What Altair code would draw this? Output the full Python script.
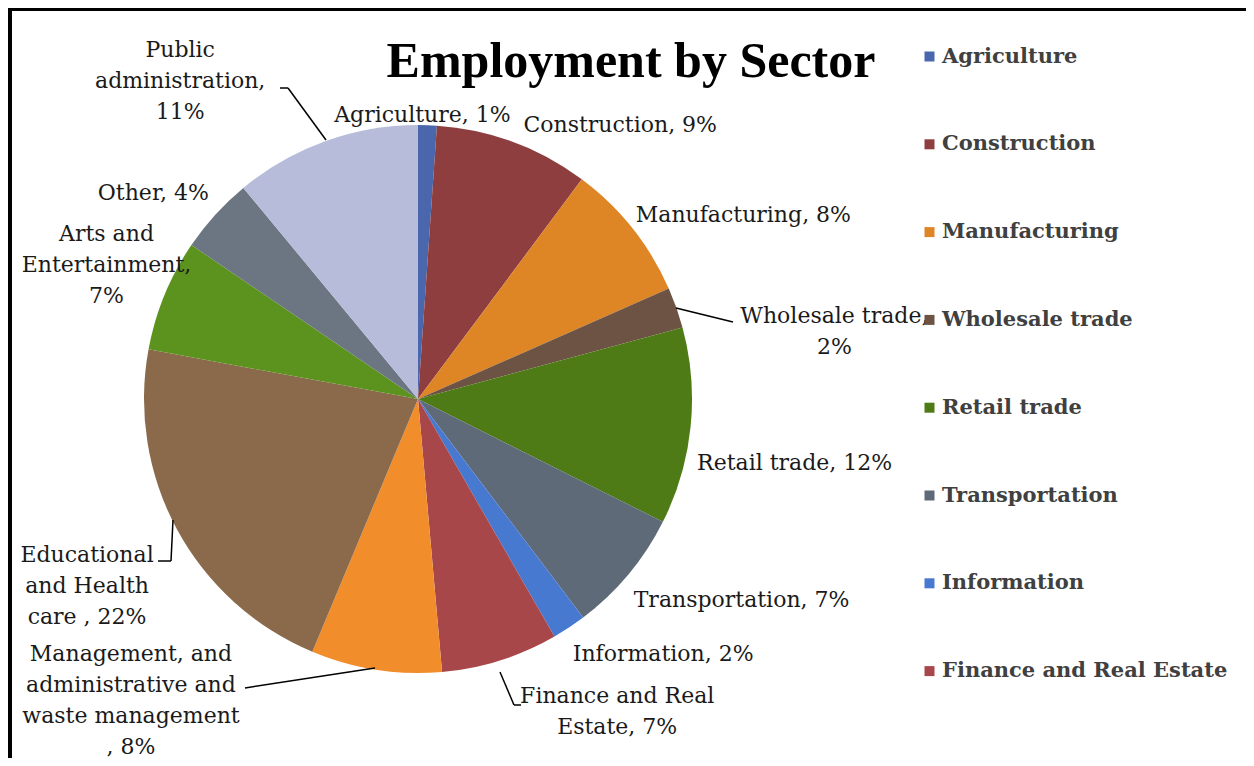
import altair as alt
import pandas as pd

# ---- data ----
sectors = [
    "Agriculture", "Construction", "Manufacturing", "Wholesale trade",
    "Retail trade", "Transportation", "Information", "Finance and Real Estate",
    "Management, and administrative and waste management",
    "Educational and Health care", "Arts and Entertainment", "Other",
    "Public administration",
]
shares = [1.1, 9.1, 8.2, 2.4, 11.6, 7.3, 2.0, 6.9, 7.7, 21.6, 6.6, 4.5, 11.0]
labels = [
    "Agriculture, 1%",
    "Construction, 9%",
    "Manufacturing, 8%",
    "Wholesale trade,\n2%",
    "Retail trade, 12%",
    "Transportation, 7%",
    "Information, 2%",
    "Finance and Real\nEstate, 7%",
    "Management, and\nadministrative and\nwaste management\n, 8%",
    "Educational\nand Health\ncare , 22%",
    "Arts and\nEntertainment,\n7%",
    "Other, 4%",
    "Public\nadministration,\n11%",
]
legend_entries = sectors[:8]
title_text = "Employment by Sector"

# ---- styles ----
colors = [
    "#4A66AC", "#8E3E3F", "#DE8526", "#6D5344", "#4E7B16", "#5E6A78",
    "#4879D1", "#A8474A", "#F28D2B", "#8A6A4B", "#5C921E", "#6C7682",
    "#B6BCDA",
]
# offset of the first text line from the slice's outer edge point
label_offsets = [
    (-5, -10), (107, -17), (111, -13), (158, 8), (104, 37), (113, 26),
    (94, 26), (117, 36), (-245, -16), (-90, 26), (-58, -61), (-62, -22),
    (-145, -91),
]
CX, CY, R = 410, 391, 274
W, H = 1238, 750
SERIF = "DejaVu Serif"

df = pd.DataFrame({
    "sector": sectors,
    "share": shares,
    "label": labels,
    "order": list(range(len(sectors))),
})

theta_scale = alt.Scale(domain=[0, 100], range=[0, 6.283185307179586])

pie = alt.Chart(df).mark_arc(outerRadius=R, stroke=None).encode(
    theta=alt.Theta("share:Q", stack=True, scale=theta_scale),
    order=alt.Order("order:Q"),
    x=alt.value(CX),
    y=alt.value(CY),
    color=alt.Color(
        "sector:N",
        scale=alt.Scale(domain=sectors, range=colors),
        legend=alt.Legend(
            title=None,
            values=legend_entries,
            orient="none",
            legendX=911,
            legendY=38,
            symbolType="square",
            symbolSize=100,
            symbolStrokeWidth=0,
            labelFont=SERIF,
            labelFontWeight="bold",
            labelFontSize=21,
            labelColor="#404040",
            labelOffset=2,
            rowPadding=65.8,
            padding=0,
            labelLimit=400,
        ),
    ),
)

base_lbl = alt.Chart(df).transform_window(
    cum="sum(share)", sort=[alt.SortField("order")], frame=[None, 0]
).transform_calculate(mid="datum.cum - datum.share / 2")

label_layers = []
for name, (dx, dy) in zip(sectors, label_offsets):
    label_layers.append(
        base_lbl.transform_filter(alt.datum.sector == name)
        .mark_text(
            radius=R, dx=dx, dy=dy, align="center", baseline="middle",
            font=SERIF, fontSize=22, lineHeight=31, lineBreak="\n",
            color="#1a1a1a",
        )
        .encode(
            theta=alt.Theta("mid:Q", stack=None, scale=theta_scale),
            x=alt.value(CX),
            y=alt.value(CY),
            text="label:N",
        )
    )

one = pd.DataFrame({"t": [title_text]})
title = alt.Chart(one).mark_text(
    font="Liberation Serif", fontSize=50, fontWeight="bold",
    align="center", baseline="alphabetic", color="#000000",
).encode(x=alt.value(623), y=alt.value(69), text="t:N")

segments = [
    (272, 80, 280, 80), (280, 80, 318, 132),
    (668, 300, 725, 314),
    (150, 553, 163, 553), (163, 553, 165, 512),
    (237, 680, 367, 660),
    (492, 664, 506, 697), (506, 697, 513, 697),
]
leaders = [
    alt.Chart(one).mark_rule(color="#000000", strokeWidth=1.5).encode(
        x=alt.value(a), y=alt.value(b), x2=alt.value(c), y2=alt.value(d)
    )
    for a, b, c, d in segments
]

frame = [
    alt.Chart(one).mark_rule(color="#000000", strokeWidth=4).encode(
        x=alt.value(0), x2=alt.value(W), y=alt.value(1), y2=alt.value(1)
    ),
    alt.Chart(one).mark_rule(color="#000000", strokeWidth=4).encode(
        x=alt.value(2), x2=alt.value(2), y=alt.value(0), y2=alt.value(H)
    ),
]

chart = alt.layer(pie, *label_layers, title, *leaders, *frame).properties(
    width=W, height=H, padding=0, autosize=alt.AutoSizeParams(type="none"),
    background="#ffffff",
).configure_view(stroke=None)

chart.save("out.html", embed_options={"renderer": "svg", "actions": False})
